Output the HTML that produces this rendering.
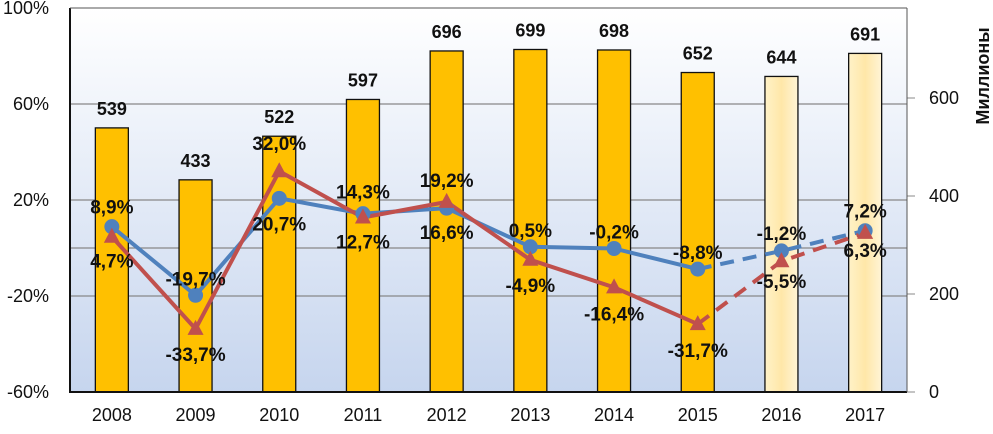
<!DOCTYPE html>
<html><head><meta charset="utf-8"><style>
body{margin:0;background:#fff;font-family:"Liberation Sans",sans-serif}
svg text{font-family:"Liberation Sans",sans-serif}
</style></head><body>
<svg width="993" height="429">
<defs>
<linearGradient id="bg" x1="0" y1="0" x2="0" y2="1"><stop offset="0" stop-color="#ffffff"/><stop offset="1" stop-color="#c6d5ee"/></linearGradient>
<linearGradient id="fc" x1="0" y1="0" x2="1" y2="0"><stop offset="0" stop-color="#fff2c8"/><stop offset="0.5" stop-color="#ffe7a8"/><stop offset="1" stop-color="#fff4d6"/></linearGradient>
</defs>
<g id="g"></g>
</svg>
<script>
const years=['2008','2009','2010','2011','2012','2013','2014','2015','2016','2017'];
const bars=[539,433,522,597,696,699,698,652,644,691];
const blue=[8.9,-19.7,20.7,14.3,16.6,0.5,-0.2,-8.8,-1.2,7.2];
const red=[4.7,-33.7,32.0,12.7,19.2,-4.9,-16.4,-31.7,-5.5,6.3];
const leftTicks=[100,60,20,-20,-60];
const rightTicks=[0,200,400,600];
const L=70,R=907,T=8,B=392;
const cx=i=>L+(R-L)/years.length*(i+0.5);
const yp=p=>248-p*2.4;
const yv=v=>B-v*0.49;
const NS='http://www.w3.org/2000/svg';
const g=document.getElementById('g');
function mk(t,a,txt){const e=document.createElementNS(NS,t);for(const k in a)e.setAttribute(k,a[k]);if(txt!=null)e.textContent=txt;g.appendChild(e);return e;}
let e=mk('rect',{x:L,y:T,width:R-L,height:B-T,fill:'url(#bg)'});


[60,20,0,-20].forEach(p=>{const l=mk('line',{x1:L,x2:R,y1:yp(p),y2:yp(p),stroke:'#888',"stroke-width":1.2});

});
leftTicks.forEach(p=>{const t=mk('text',{x:49,y:yp(p)+6,"font-size":18,"text-anchor":"end",fill:'#111'},p+'%');

});
rightTicks.forEach(v=>{mk('line',{x1:R,x2:R+8,y1:yv(v),y2:yv(v),stroke:'#888'});
const t=mk('text',{x:929,y:yv(v)+6,"font-size":18,fill:'#111'},v);

});
let at=mk('text',{transform:'translate(989,76) rotate(-90)',"font-size":18,"font-weight":"bold","text-anchor":"middle",fill:'#111'},'Миллионы');


bars.forEach((v,i)=>{const r=mk('rect',{x:cx(i)-16.5,y:yv(v),width:33,height:B-yv(v),fill:i>=8?'url(#fc)':'#ffc000',stroke:'#111',"stroke-width":1.3});


const t=mk('text',{x:cx(i),y:yv(v)-13,"font-size":18,"font-weight":"bold","text-anchor":"middle",fill:'#111'},v);


const x=mk('text',{x:cx(i),y:421,"font-size":18,"text-anchor":"middle",fill:'#111'},years[i]);

});
let ax=mk('path',{d:`M${L},${T}V${B}H${R}`,fill:'none',stroke:'#111',"stroke-width":2});


mk('line',{x1:L,x2:R,y1:T,y2:T,stroke:'#555',"stroke-width":1});
mk('line',{x1:R,x2:R,y1:T,y2:B,stroke:'#555',"stroke-width":1});
function series(arr,col,name){
 const pts=arr.map((p,i)=>[cx(i),yp(p)]);
 const s=pts.slice(0,8).map(p=>p.join(',')).join(' ');
 const d=pts.slice(7).map(p=>p.join(',')).join(' ');
 let a=mk('polyline',{points:s,fill:'none',stroke:col,"stroke-width":4});
 
 
 let b=mk('polyline',{points:d,fill:'none',stroke:col,"stroke-width":4,"stroke-dasharray":"14,9"});
 
 
 return pts;}
const pb=series(blue,'#4f81bd','blue-series');
const pr=series(red,'#c0504d','red-series');
pb.forEach((p,i)=>{const c=mk('circle',{cx:p[0],cy:p[1],r:7.5,fill:'#4f81bd'});

});
pr.forEach((p,i)=>{const c=mk('path',{d:`M${p[0]},${p[1]-9}L${p[0]+8},${p[1]+6}L${p[0]-8},${p[1]+6}Z`,fill:'#c0504d'});

});
const fmt=v=>v.toFixed(1).replace('.',',')+'%';
const bOff=[-13,-10,+32,-15,+31,-10,-10,-10,-11,-13];
const rOff=[+31,+32,-21,+31,-15,+32,+33,+33,+27,+24];
blue.forEach((v,i)=>{const t=mk('text',{x:cx(i),y:yp(v)+bOff[i],"font-size":19,"font-weight":"bold","text-anchor":"middle",fill:'#111'},fmt(v));

});
red.forEach((v,i)=>{const t=mk('text',{x:cx(i),y:yp(v)+rOff[i],"font-size":19,"font-weight":"bold","text-anchor":"middle",fill:'#111'},fmt(v));

});
</script>
</body></html>
